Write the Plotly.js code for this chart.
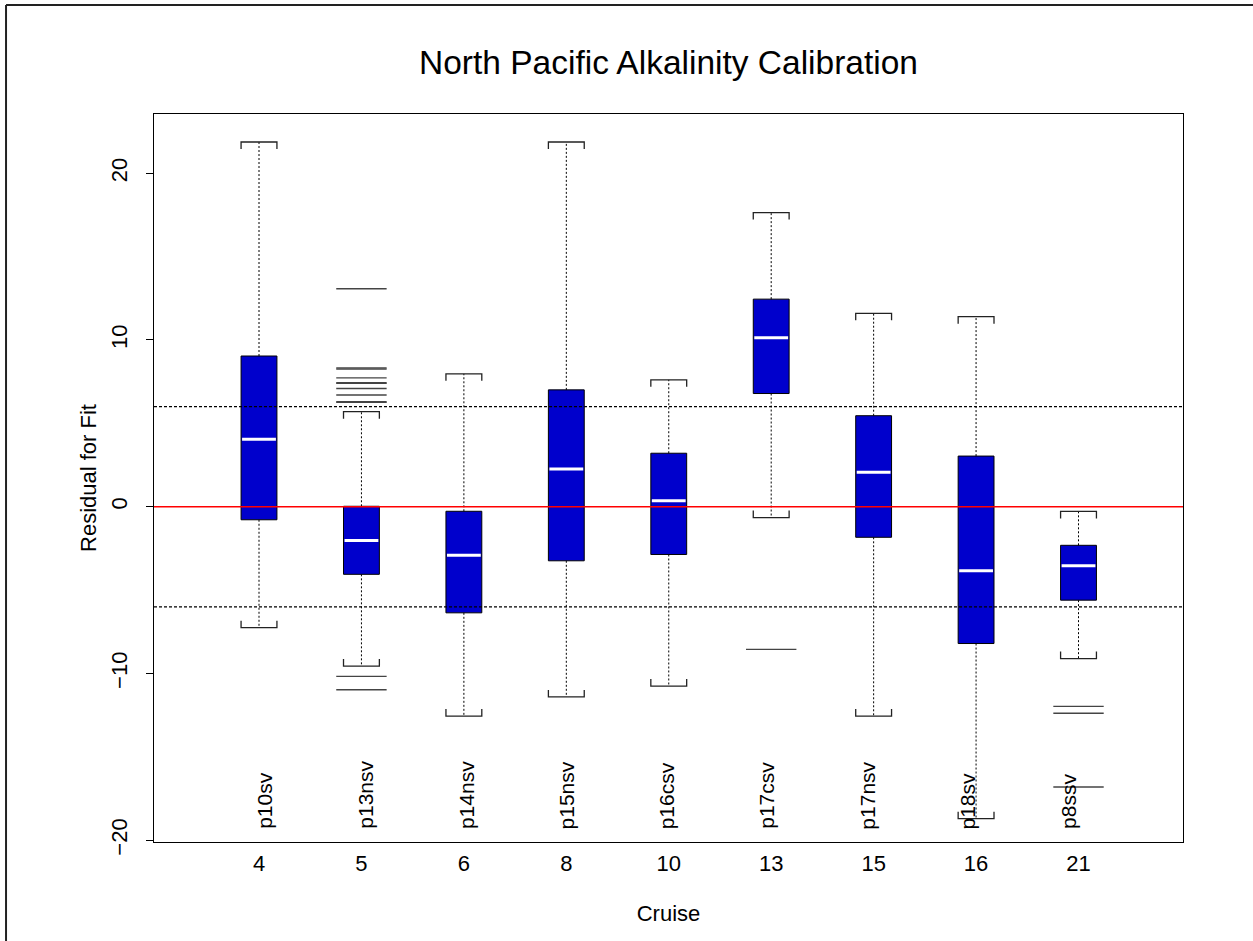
<!DOCTYPE html>
<html>
<head>
<meta charset="utf-8">
<script src="https://cdn.plot.ly/plotly-3.0.1.min.js"></script>
<style>html,body{margin:0;padding:0;background:#fff;}#chart{width:1253px;height:941px;}</style>
</head>
<body>
<div id="chart"></div>
<script>
// ---- data ----
const cruiseIds    = ['p10sv','p13nsv','p14nsv','p15nsv','p16csv','p17csv','p17nsv','p18sv','p8ssv'];
const cruiseNums   = ['4','5','6','8','10','13','15','16','21'];
const lowerWhisker = [-7.25, -9.55, -12.55, -11.4, -10.75, -0.65, -12.55, -18.7, -9.1];
const q1           = [-0.78, -4.05, -6.36, -3.24, -2.86, 6.79, -1.83, -8.2, -5.6];
const medians      = [4.05, -2.02, -2.9, 2.27, 0.36, 10.14, 2.07, -3.83, -3.54];
const q3           = [9.04, 0.03, -0.27, 7.01, 3.21, 12.45, 5.46, 3.04, -2.31];
const upperWhisker = [21.87, 5.7, 7.97, 21.87, 7.61, 17.64, 11.6, 11.4, -0.28];
const outliers     = [
  [],
  [13.07, 8.33, 8.26, 7.73, 7.44, 7.40, 7.09, 6.70, 6.30, 6.26, -10.17, -10.97],
  [],
  [],
  [],
  [-8.55],
  [],
  [],
  [-11.97, -12.38, -16.8]
];
const refLevels = [6, -6];

// ---- geometry / style ----
const pos = cruiseIds.map((_, i) => i + 1);
const halfW = 0.175;          // half box width (x units)
const hook = 0.42;            // staple hook length (y units)

const boxes = {
  type: 'bar', x: pos, base: q1, y: q3.map((v, i) => v - q1[i]), width: 2 * halfW,
  marker: {color: '#0000CC', line: {color: '#000', width: 1}},
  hoverinfo: 'skip', showlegend: false
};

const wx = [], wy = [];
pos.forEach((p, i) => {
  wx.push(p, p, null, p, p, null);
  wy.push(q3[i], upperWhisker[i], null, q1[i], lowerWhisker[i], null);
});
const whiskers = {type: 'scatter', mode: 'lines', x: wx, y: wy,
  line: {color: '#000', width: 1, dash: '2px,2px'}, hoverinfo: 'skip', showlegend: false};

const sx = [], sy = [];
pos.forEach((p, i) => {
  const u = upperWhisker[i], l = lowerWhisker[i];
  sx.push(p - halfW, p - halfW, p + halfW, p + halfW, null);
  sy.push(u - hook, u, u, u - hook, null);
  sx.push(p - halfW, p - halfW, p + halfW, p + halfW, null);
  sy.push(l + hook, l, l, l + hook, null);
});
const staples = {type: 'scatter', mode: 'lines', x: sx, y: sy,
  line: {color: '#222', width: 1.3}, hoverinfo: 'skip', showlegend: false};

const mx = [], my = [];
pos.forEach((p, i) => { mx.push(p - halfW + 0.01, p + halfW - 0.01, null); my.push(medians[i], medians[i], null); });
const medLines = {type: 'scatter', mode: 'lines', x: mx, y: my,
  line: {color: '#fff', width: 3}, hoverinfo: 'skip', showlegend: false};

const ox = [], oy = [];
outliers.forEach((arr, i) => arr.forEach(v => { ox.push(pos[i]); oy.push(v); }));
const outl = {type: 'scatter', mode: 'markers', x: ox, y: oy,
  marker: {symbol: 'line-ew-open', size: 36, color: '#444', line: {color: '#444', width: 1.4}},
  hoverinfo: 'skip', showlegend: false};

const shapes = refLevels.map(v => ({type: 'line', xref: 'paper', x0: 0, x1: 1, yref: 'y', y0: v, y1: v,
  line: {color: '#000', width: 1.2, dash: '3px,2px'}, layer: 'above'}));
shapes.push({type: 'line', xref: 'paper', x0: 0, x1: 1, yref: 'y', y0: 0, y1: 0,
  line: {color: '#ff0000', width: 1.5}, layer: 'above'});
// outer figure frame (left & top edges visible)
shapes.push({type: 'line', xref: 'paper', yref: 'paper', x0: -0.1438, x1: -0.1438, y0: 1.1497, y1: -0.2,
  line: {color: '#222', width: 2}});
shapes.push({type: 'line', xref: 'paper', yref: 'paper', x0: -0.1438, x1: 1.2, y0: 1.1497, y1: 1.1497,
  line: {color: '#222', width: 2}});

const annotations = cruiseIds.map((t, i) => ({
  text: t, x: 1.06 + i * 0.98, y: -19.45, xref: 'x', yref: 'y',
  textangle: -90, xanchor: 'center', yanchor: 'bottom', showarrow: false,
  font: {family: 'Liberation Sans, Arial, sans-serif', size: 21, color: '#000'}
}));

const font = {family: 'Liberation Sans, Arial, sans-serif', color: '#000'};
const layout = {
  width: 1253, height: 941,
  margin: {l: 154, r: 70, t: 114, b: 99},
  paper_bgcolor: '#fff', plot_bgcolor: '#fff',
  barmode: 'overlay', showlegend: false,
  font: font,
  title: {text: 'North Pacific Alkalinity Calibration', x: 0.5, xref: 'paper',
          y: 1 - 62 / 941, yref: 'container', yanchor: 'middle',
          font: {family: font.family, size: 33.5, color: '#000'}},
  xaxis: {range: [-0.025, 10.02], tickvals: pos, ticktext: cruiseNums, ticks: '',
          showline: true, mirror: true, linecolor: '#000', linewidth: 1,
          showgrid: false, zeroline: false, ticklabelstandoff: 2,
          tickfont: {size: 22, color: '#000'},
          title: {text: 'Cruise', standoff: 30, font: {size: 22, color: '#000'}}},
  yaxis: {range: [-20.1, 23.55], tickvals: [-20, -10, 0, 10, 20], tickangle: -90,
          ticks: 'outside', ticklen: 7, tickcolor: '#000', tickwidth: 1,
          showline: true, mirror: true, linecolor: '#000', linewidth: 1,
          showgrid: false, zeroline: false, ticklabelstandoff: 10,
          tickfont: {size: 22, color: '#000'},
          title: {text: 'Residual for Fit', standoff: 4, font: {size: 22, color: '#000'}}},
  shapes: shapes,
  annotations: annotations
};

Plotly.newPlot('chart', [boxes, whiskers, staples, medLines, outl], layout, {staticPlot: true});
</script>
</body>
</html>
